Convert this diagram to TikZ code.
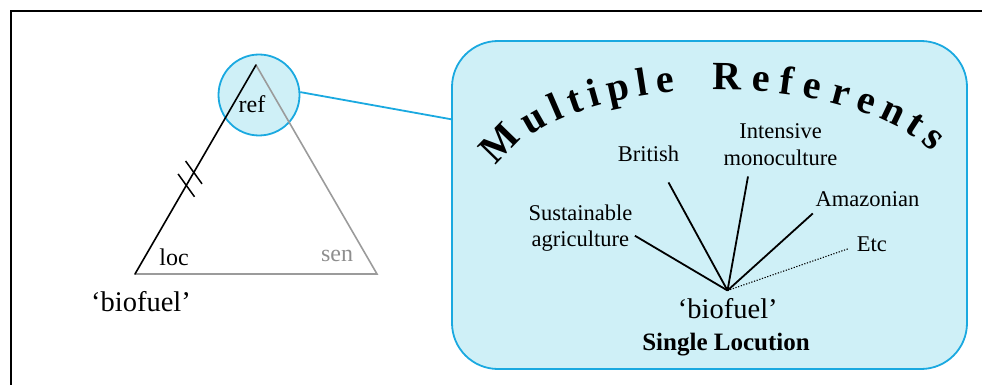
\documentclass[tikz,border=0pt]{standalone}
\usepackage{fontspec}
\setmainfont{Liberation Serif}
\usetikzlibrary{calc}

\definecolor{linkcyan}{HTML}{1AA9E0}
\definecolor{panelfill}{HTML}{CFF0F7}
\definecolor{sidegray}{HTML}{9B9B9B}
\definecolor{sengray}{HTML}{8E8E8E}

\begin{document}
\begin{tikzpicture}[x=1pt,y=-1pt,
  spokelabel/.style={inner sep=0pt, anchor=base, font=\fontsize{22.5}{27}\selectfont},
  vertexlabel/.style={inner sep=0pt, anchor=base, font=\fontsize{24}{28}\selectfont},
  wordlabel/.style={inner sep=0pt, anchor=base, font=\fontsize{28.5}{32}\selectfont},
  titlech/.style={inner sep=0pt, anchor=base, font=\fontsize{40}{40}\selectfont\bfseries},
  spoke/.style={line width=1.8pt},
  cyanline/.style={draw=linkcyan, line width=1.8pt},
  sideline/.style={line width=1.6pt, line cap=round},
]
\useasboundingbox (0,0) rectangle (982,385);

% outer frame (open to the right and bottom)
\draw[line width=1.8pt] (11,390) -- (11,11) -- (990,11);

% magnifying lens around the apex
\node[circle, minimum size=81pt, inner sep=0pt, fill=panelfill, cyanline] (lens) at (259,95) {};

% semiotic triangle
\coordinate (apex) at (256,65);
\coordinate (locv) at (135,274);
\coordinate (senv) at (377,274);
\draw[sideline, sidegray] (locv) -- (senv) -- (apex);
\draw[sideline, black] (locv) -- (apex);

% double tick on the loc--ref side
\draw[line width=1.5pt] ($(locv)!0.424!(apex)$) ++(-8.2,-11.4) -- ++(16.4,22.8);
\draw[line width=1.5pt] ($(locv)!0.486!(apex)$) ++(-8.2,-11.4) -- ++(16.4,22.8);

\node[vertexlabel] (reflbl) at (252,112.7) {ref};
\node[vertexlabel] (loclbl) at (174,265) {loc};
\node[vertexlabel, text=sengray] (senlbl) at (337,261.7) {sen};
\node[wordlabel] (bioleft) at (141,311) {‘biofuel’};

% enlarged panel
\node[draw=linkcyan, line width=1.8pt, fill=panelfill, rounded corners=46pt,
      minimum width=515pt, minimum height=328pt, inner sep=0pt] (panel) at (709.5,205) {};
\draw[cyanline] (lens.4) -- ($(panel.north west)!0.24!(panel.south west)$);

% arched title: each letter sits on an elliptical arc (centre 720,193; radii 230,103)
% at parameter angle \ang, turned to follow the arc
\foreach \ch/\ang [count=\k] in {M/156.5,u/142.0,l/134.0,t/128.0,i/122.3,p/115.8,l/109.3,e/103.6,
                                 R/88.3,e/80.0,f/73.5,e/67.0,r/59.1,e/51.6,n/43.0,t/34.6,s/26.4} {
  \pgfmathsetmacro\px{720+230*cos(\ang)}
  \pgfmathsetmacro\py{193-103*sin(\ang)}
  \pgfmathsetmacro\rot{atan2(-103*cos(\ang),230*sin(\ang))}
  \node[titlech, rotate=\rot] (title\k) at (\px,\py) {\ch};
}

% referents
\node[spokelabel] (sus1) at (580.4,220) {Sustainable};
\node[spokelabel] (sus2) at (580.4,246) {agriculture};
\node[spokelabel] (brit) at (648.5,161.7) {British};
\node[spokelabel] (int1) at (780.5,138.3) {Intensive};
\node[spokelabel] (int2) at (780.5,165) {monoculture};
\node[spokelabel] (amaz) at (867.4,206) {Amazonian};
\node[spokelabel] (etc) at (871.8,251.7) {Etc};

\node[wordlabel] (bioright) at (727.8,318.5) {‘biofuel’};
\node[inner sep=0pt, anchor=base, font=\fontsize{25}{30}\selectfont\bfseries] (single) at (726,350) {Single Locution};

\coordinate (hub) at (727.5,290.5);
\draw[spoke] (hub) -- ([xshift=5.6pt,yshift=4.9pt]sus2.east);
\draw[spoke] (hub) -- ([xshift=20pt,yshift=-20.3pt]brit.south);
\draw[spoke] (hub) -- ([xshift=-32.5pt,yshift=-11pt]int2.south);
\draw[spoke] (hub) -- ([xshift=-2.5pt,yshift=-7pt]amaz.south west);
\draw[line width=1.1pt, dash pattern=on 1.2pt off 1.6pt] (hub) -- ([xshift=-7.5pt,yshift=-4pt]etc.west);
\end{tikzpicture}
\end{document}
